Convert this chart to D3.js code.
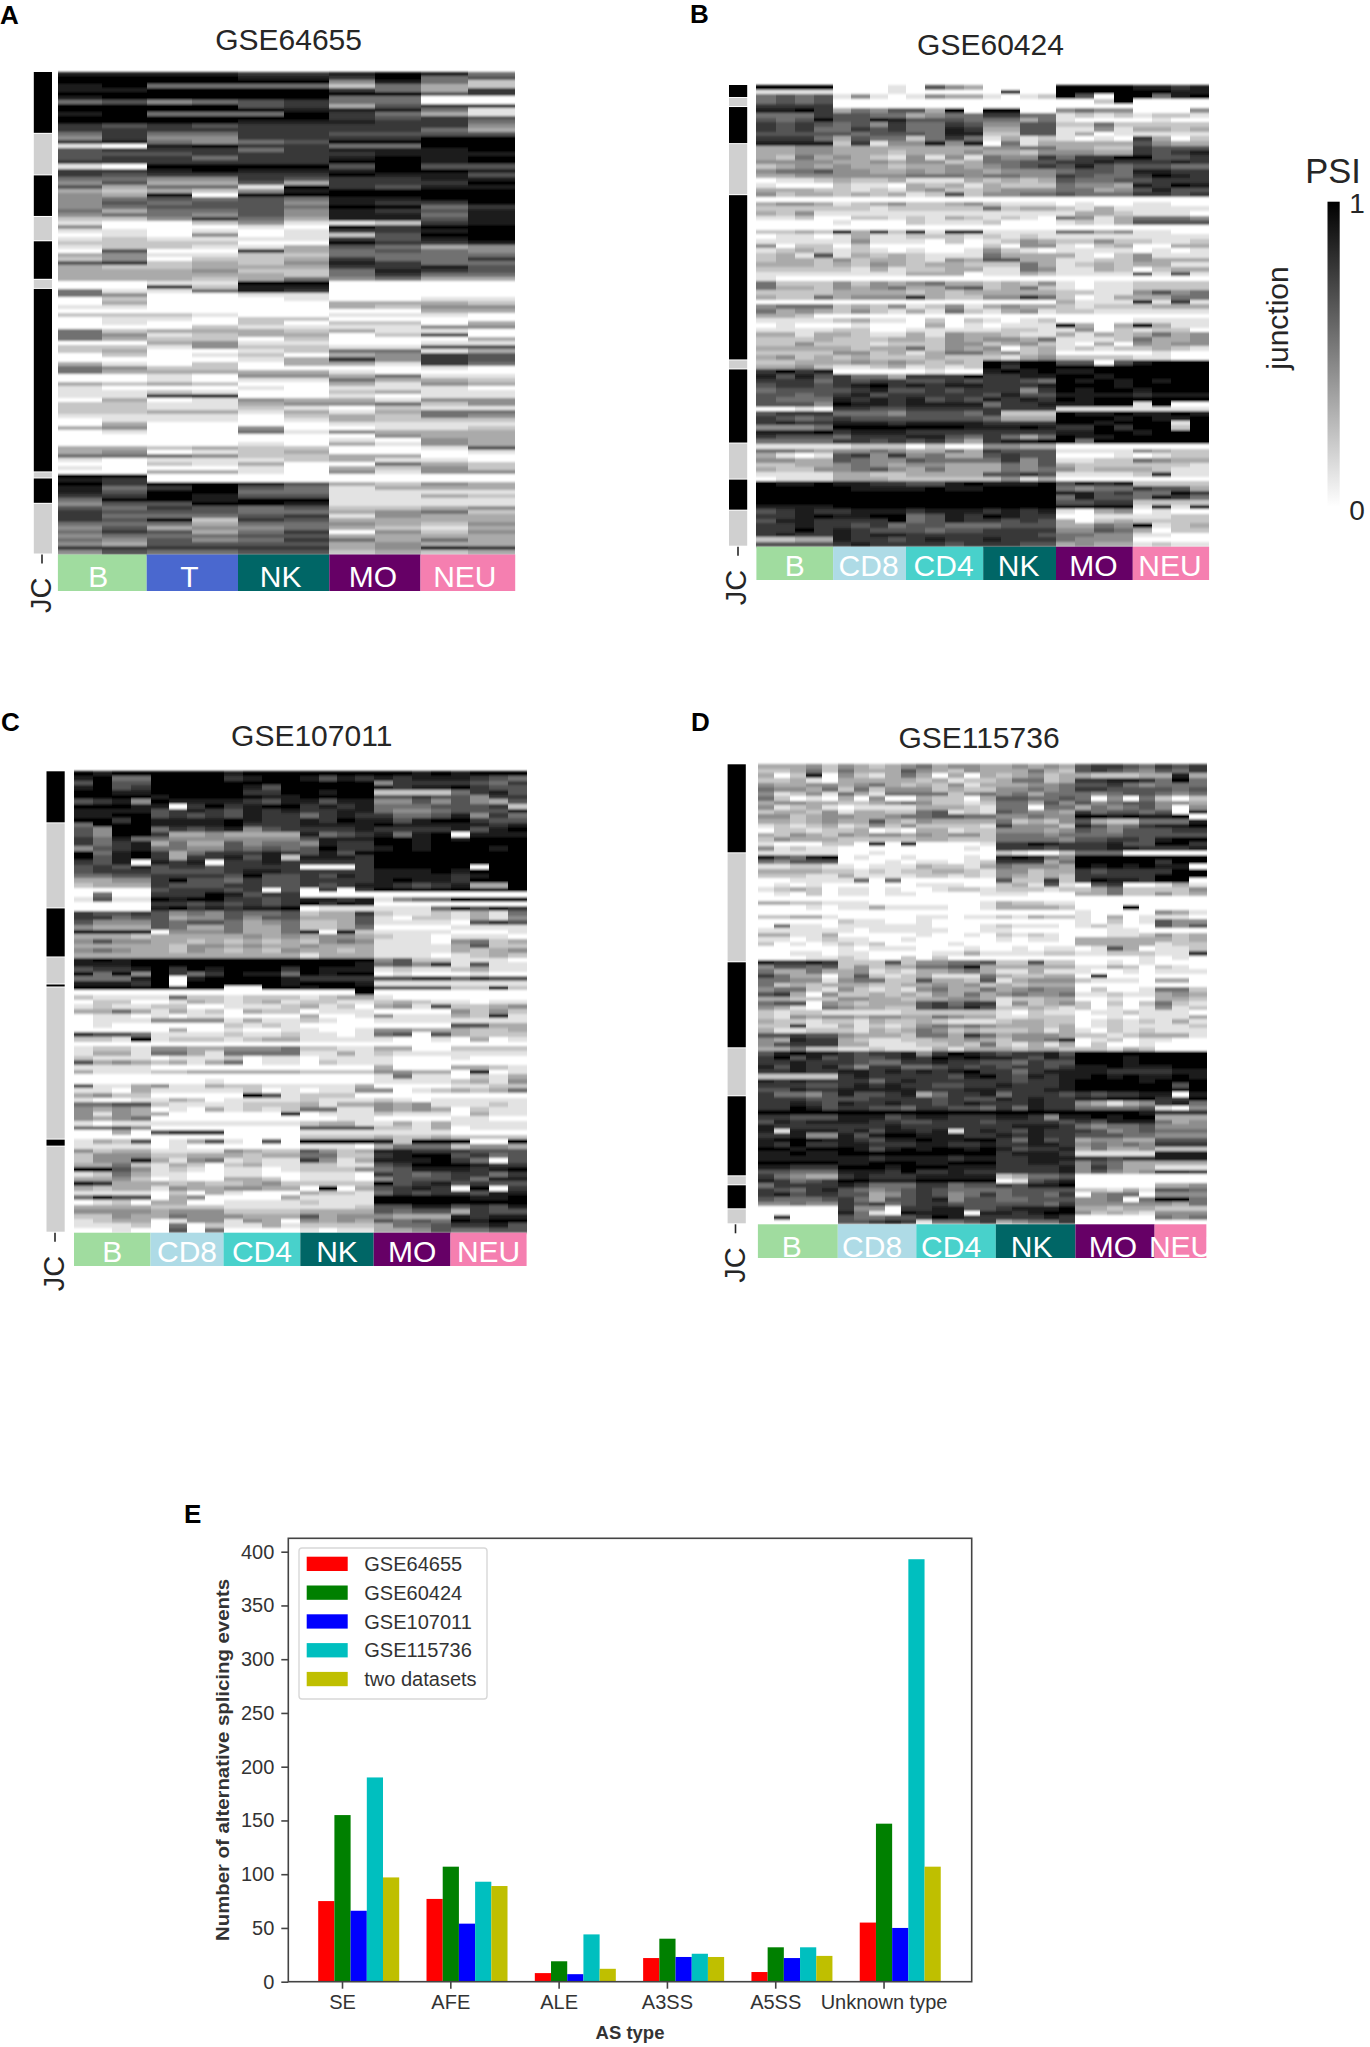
<!DOCTYPE html>
<html>
<head>
<meta charset="utf-8">
<title>PSI heatmaps</title>
<script src="https://cdn.jsdelivr.net/npm/d3@7"></script>
<style>
  html, body { margin: 0; background: #fff; }
  svg { display: block; font-family: "Liberation Sans", Arial, sans-serif; }
</style>
</head>
<body>
<div id="chart"></div>
<script>
// PSI per junction (row) and sample (column): 0 = white ... 9 = black
const psiA = [
"8888778985","9999887956","9999994852","8955552532","8899997537","9999999967","8999995500","5645675500",
"9999673677","9999988851","8955597531","9999997676","9999888775","7676777774","7777777753","5755776666",
"4744777799","7854569999","1089775599","6777578889","6667777888","6775778989","7777779989","1099996966",
"7789888998","7677779886","5544767788","4633637779","6355197688","3232489999","4390999999","4565658899",
"4656648779","4566659957","5355648768","4554648858","2247538868","1002411278","4000109799","1101017789",
"0104012699","1211117689","2222009778","1221136534","0600735654","3411225555","2402237557","6723248755",
"3223337786","3334225876","3333325755","3332354533","0011990000","0072880000","5115870000","5400110000",
"0200010011","0300003332","1100003244","0000000033","2221001110","0110220000","0100202203","0002111144",
"5233323110","5412330260","5322020003","0034110011","2214221166","2300125513","0201203476","0000137476",
"3102033175","5422000010","5333331000","0010443511","0010115332","3232003143","1000101110","1121002311",
"1178001011","0301433144","2211344524","2211210211","2233131355","1111023254","0111013222","0300001111",
"3400400112","0100514333","0000000433","0000001043","0000103143","3323220016","3401230001","5554223300",
"1011123110","0021300532","1000103242","0033104144","9900000000","8700000000","9799863243","8579651333",
"8699551111","7798661132","5998991111","4669981111","6576562234","7666553452","7555671433","7692763333",
"5553554324","4634453213","5763570424","4555663333","5464575353","4366663433","7777773487","4655662323"
];
const psiB = [
"9999 0001 0643 0000 9999 8878","1111 0001 0000 0800 9999 9988","5656 1410 1433 1012 9609 9589","5656 0000 0000 0000 0029 0000",
"7777 0000 0000 0000 0000 0000","8897 3546 6390 9900 4544 0004","5557 6655 3455 7755 1212 1221","6569 6698 6665 5535 1000 0100",
"7676 5647 5576 4466 2252 2222","7675 5767 5587 3366 1141 3323","6666 6566 6588 2266 1301 1111","7775 3655 2575 1312 1010 7302",
"8888 2714 4848 0513 3333 6433","3344 3333 3333 4455 3322 7666","3344 3332 3334 3324 4433 7678","3253 4321 4141 5447 5779 9667",
"4444 3343 4423 5566 7787 7787","2343 4332 3343 4567 6865 6655","4556 4433 4344 3444 5665 8877","3344 4444 5554 5544 7655 7987",
"0112 3223 1113 2323 6556 6777","1000 2110 3231 3222 5443 8798","3332 2121 3422 3444 5534 6866","4233 2323 1262 4455 6555 7767",
"0000 0000 0000 0000 0000 0000","3443 1234 2234 2111 0100 1100","2222 2212 2222 5233 2131 1111","3241 1111 1111 1111 1332 1110",
"1120 0221 2132 1210 5413 5554","0000 1000 2111 2000 1213 6666","0000 0000 0000 0000 0000 0000","2232 9372 8199 1111 5534 1100",
"0110 1311 2221 2121 1111 1111","1111 1411 1020 1243 2242 2112","4022 0200 0000 2044 1023 0033","1232 1210 1001 4210 1111 0101",
"2316 1323 2111 5333 3102 4111","2332 4233 2143 6633 1122 4333","3332 3243 2332 2253 1232 3311","2222 2131 2233 1154 1132 0233",
"1111 1111 3330 1132 1111 6161","1000 0000 0000 0000 0000 0000","5222 4243 4533 2324 1011 2222","5332 4345 3356 2352 1011 2222",
"2222 3333 2323 3333 2211 4645","3225 3444 7322 4475 2013 3355","0000 0000 0000 0000 3111 8171","4555 2324 1241 3433 2122 2333",
"5343 2421 3152 1341 2211 1111","3320 0000 0000 0000 0000 0000","1111 2311 0202 1012 0000 1111","0100 0100 0301 0111 8303 8311",
"1111 2200 1111 1221 1402 1220","3313 3211 3143 3211 3132 3534","2223 2223 3243 4435 1112 5334","2242 2212 2244 2342 1030 4344",
"3333 3233 5243 4023 1212 2321","2222 4423 1355 3423 0000 0100","3423 2322 2322 2134 2222 1100","2233 3434 3232 9899 6606 8999",
"3342 1123 1212 9799 9999 9999","7978 0000 0100 8989 8899 9999","8686 7553 7779 7788 9989 9999","7775 7677 6676 7765 9898 9899",
"6776 7897 8788 7778 9998 9999","5666 6786 6767 7747 9899 8999","6656 7867 7777 6866 8888 7888","6555 8787 8676 8787 9899 9999",
"6664 9887 8888 5778 8899 1900","0010 7766 7777 7777 1111 1111","6777 5554 6665 7222 9889 8898","7656 7666 6666 5333 9998 9889",
"7877 8887 8888 7777 9989 9919","4445 9999 9998 8898 7797 9929","8889 7888 7777 7777 8899 8999","7666 5777 8865 7535 9889 9999",
"5555 7767 6753 7889 9599 9999","1111 1222 0200 4433 0000 0000","5543 4454 3353 7666 1111 4322","3101 6747 4533 6766 0001 0122",
"4433 6544 6555 5746 1122 5433","2233 4543 4433 3546 3222 2221","3224 4564 3533 3545 4233 3211","1111 3322 3333 6676 1111 2711",
"0111 3332 2222 2413 0000 0000","9889 8877 6689 8889 6878 2222","9999 9888 8988 9999 5455 7663","9999 9999 9999 9999 8867 5597",
"9999 9999 9999 9999 5866 5875","9999 9999 9999 9999 6677 2222","8888 9999 9999 9999 9999 1919","6787 7888 7888 7878 1034 0100",
"7789 8899 5687 9877 0011 1122","6887 7779 5687 7676 3023 2222","7787 7675 6655 5666 3354 9123","7797 8766 6566 7777 4465 3022",
"7877 8788 7777 7776 5544 1100","2233 8776 7877 8777 5444 0000","6666 7877 7767 7766 3433 1211"
];
const psiC = [
"9899 9999 8999 9999 9989 8999","8955 9999 7899 8687 8788 8765","6966 9999 9999 9999 4777 7657","8967 9999 9869 9999 8788 9766",
"9988 9999 9779 9899 2222 5786","9999 8999 9988 9999 6676 6477","6784 9888 8768 8688 4464 6436","9998 8079 7899 7878 5556 6672",
"8888 6787 6878 7788 5445 6668","8899 6767 6877 5787 7556 8475","9979 8888 9877 8798 8689 9766","5999 8888 9777 8888 9888 8878",
"6499 5767 8467 7778 7777 8689","6499 7334 3333 8567 8589 0888","7585 5444 4444 6888 9989 8999","7578 3533 6455 4877 9989 9999",
"4678 5544 6565 6977 8989 9989","9589 7357 7787 6869 9999 9999","9689 7377 8682 8887 9999 9999","7680 8780 7787 7777 9999 9999",
"6768 6776 7777 0007 9999 9099","6777 6666 7887 7777 8889 8999","5566 7777 6966 7687 8888 7899","3344 7966 5766 7777 8988 7999",
"2333 7666 7766 7678 8767 8339","0000 6777 6706 0707 9999 9999","0500 7779 8677 0000 0000 0000","1611 9899 7767 8878 1455 9888",
"0000 7767 6767 9798 0000 0000","0000 8978 7889 0111 1115 8687","7667 6454 6556 2337 2112 1315","7756 6344 6466 3336 1022 1314",
"6444 6566 5345 2236 1111 0676","4333 6533 5335 2235 0000 1111","9999 0444 5335 9092 1111 0001","3332 3333 3434 3443 2110 1110",
"4644 3323 2323 2454 1110 4523","3333 3244 3433 4333 1111 3622","4543 3243 2324 3323 1111 3234","3333 3333 3333 1333 1110 1232",
"8989 9999 9999 9999 4622 1110","8889 9999 9999 9998 5647 1611","6778 9798 9997 9888 1211 2311","9594 9757 9885 9899 0100 0100",
"5558 9089 9998 7777 6677 5766","8887 9099 9998 9998 1111 1111","9999 9999 0099 8999 6666 2292","0000 0000 0000 0009 0000 0000",
"2111 1522 1222 1233 1000 0000","0220 0132 1231 2211 2321 1011","1211 2200 1112 3120 3416 2234","3353 1312 0322 0111 0000 4242",
"0110 1011 0000 3001 4111 3281","0111 4444 1311 2100 1111 1111","0100 0000 2121 0000 0000 6633","0000 0300 1001 1001 4433 3223",
"7665 1111 2112 1101 5606 3222","2219 1222 1233 1111 1001 0301","0000 0000 0000 0000 0000 0000","1221 4433 4445 2211 3300 2222",
"1331 5531 5555 1131 2111 1111","2111 0111 2011 0111 1000 1000","6343 2313 5011 0211 1000 0000","1111 0000 0000 0000 3000 3321",
"3111 2233 3333 2222 4433 0901","0000 0000 0000 0000 1511 0213","0000 0001 0000 0000 1111 2314","6113 4113 2211 1113 0000 1122",
"1103 1111 1201 0114 4012 3235","3422 0000 0961 2220 0000 0000","1001 1320 1111 2111 2101 1111","5566 2111 1222 3133 4341 1121",
"4343 0103 1212 5511 4343 0211","4143 3000 0009 0111 2111 0311","4345 0000 0000 0011 0000 1100","1011 1111 1111 2331 1313 1111",
"5564 0000 0000 6666 2213 0111","0030 6777 0000 1111 1111 0000","0000 0000 0000 2222 3223 2222","1326 0136 1060 9999 8299 9009",
"1111 0100 0000 1110 3555 2443","4233 1111 4322 6423 8877 7666","2444 2233 3233 5522 7899 6756","2448 3145 1211 7413 8889 7506",
"3352 1320 2311 2211 6799 9877","9964 1210 1101 2224 5688 8789","1253 1100 1100 1110 7656 7757","3342 0100 3320 1110 4666 7588",
"8733 3232 2342 2222 9678 6766","3233 1433 4433 0903 6787 0907","1111 0203 1000 3221 5767 7688","5866 0340 0003 1111 9999 9889",
"0120 3300 1111 2111 9999 9999","3333 2222 1111 1112 6688 6768","4444 3444 2222 3333 6566 3766","2243 3544 4333 6344 4333 8788",
"1233 0144 1430 4343 6565 9899","1112 0502 1131 2222 3556 7786","0010 0605 0000 1011 3346 5566"
];
const psiD = [
"33342 43234 53443 34343 67765 767","22352 53336 43243 33532 67654 657","30280 42135 30303 23423 32223 383","22310 33333 23122 35523 77887 595",
"43344 34532 32413 33445 66754 555","54435 25244 42322 44545 77666 656","41241 53155 55245 45355 54566 545","52010 30400 32203 66556 50405 202",
"34433 22345 42212 55364 64566 443","41231 01111 33321 55055 35456 404","23324 13322 56121 65443 75665 608","44234 43345 56655 44544 99898 890",
"33234 33632 43333 52324 63225 558","12123 12424 22221 74442 86457 889","02212 23010 33122 44434 65466 677","32432 43443 43442 55545 55566 666",
"24333 22222 33222 55554 66776 899","10002 20909 00001 77987 77866 997","41211 00000 00010 77767 77887 778","11111 00100 00000 21002 55500 000",
"86589 01001 00010 89854 99999 999","54666 00010 11012 77735 99999 799","11221 10111 32213 54443 98989 880","33332 21212 23321 44233 76777 799",
"22211 31111 22121 43232 77777 999","00111 15050 00000 62272 79887 990","01010 00000 11100 23161 06700 131","12320 11010 01221 22212 23522 224",
"01020 11011 00001 11000 33522 423","00000 00000 00000 00000 00000 000","33221 11000 00001 32211 00000 000","00010 11311 11001 33332 00090 000",
"00000 00000 00000 00000 10000 431","22331 00000 11011 21322 10301 110","00000 21100 10000 00000 10201 644","05110 11111 10001 21110 12100 646",
"11111 10111 11001 10000 00110 000","33113 00000 10010 21210 00112 423","11012 11001 00000 10110 33333 323","20101 21200 00100 00000 33333 122",
"00000 10111 00010 01011 01630 112","00110 11000 01131 11122 11222 117","00011 21002 02000 00000 00001 010","87787 22262 44556 22622 00101 000",
"46656 24233 55693 33333 11320 210","53353 34121 33453 11311 10010 111","75330 36212 31115 32233 09000 000","55441 45522 63326 13444 21110 330",
"52323 33223 34342 32333 00000 000","45521 42121 45335 34544 02001 552","67304 22323 24353 45445 11211 343","33222 44332 33443 12233 00100 332",
"56604 32333 67577 14234 20202 521","43105 43322 67686 22321 20101 412","21221 11112 22222 10211 01121 110","21434 43443 35433 11222 00101 113",
"32212 21322 32111 23322 01212 131","22711 31212 45454 33323 01211 112","31122 21323 54232 22313 10212 111","66766 43332 55375 34443 22123 331",
"43877 32112 23343 24458 01201 100","46777 33111 22325 21313 02001 000","33522 11211 13133 32332 22132 000","68988 76778 47987 67786 99999 999",
"79686 76678 79898 87687 99989 999","77877 76557 78776 65766 99989 999","86878 64775 56767 67767 88988 899","77877 88787 87897 75788 88777 788",
"22222 78777 77689 76878 89898 898","87877 77578 77777 76778 99998 999","77766 78787 76677 87778 99999 969","66877 88888 77788 77788 99999 999",
"75546 86678 35778 57776 76778 808","77766 66777 76766 87877 88999 779","77876 87787 76787 77877 43134 785","77986 77665 77665 75877 55556 104",
"99999 99999 99999 99999 99998 777","77666 88867 88777 88748 89899 333","68788 88776 67776 77776 76888 534","87777 77787 77777 78887 54556 444",
"81888 78688 78178 76877 76456 555","77844 86899 88877 87877 66655 444","89998 87688 98899 75867 34433 666","87977 88777 88778 77887 45454 777",
"99899 98689 89989 86778 35334 222","88988 99999 99999 78887 11111 888","88888 88788 88788 77888 77677 888","99999 88999 88999 77887 46533 333",
"88777 99989 99888 77778 47533 111","66555 88879 77877 77778 46434 887","75433 78777 88888 23556 00000 000","87567 99888 99999 01678 00000 000",
"57777 87555 77566 76889 00000 334","76578 65456 76555 56666 22131 665","78677 66346 76457 56657 04550 444","65556 75366 78466 55666 44505 995",
"44544 76756 77666 66657 44444 435","00000 74407 78866 78889 33233 222","00000 85109 88808 87899 42321 444","07000 65566 79877 77787 00000 545",
"00000 66787 15567 34557 00000 000"
];

// JC annotation runs, black / grey alternating from the top
const jcA = [61, 41, 41, 24, 38, 9, 181, 6, 25, 50];
const jcB = [13, 9, 37, 51, 165, 9, 74, 36, 31, 36];
const jcC = [52, 85, 49, 27, 3, 152, 7, 86];
const jcD = [89, 109, 86, 48, 80, 9, 24, 15];

const groupsA = ["B", "T", "NK", "MO", "NEU"];
const groupsB = ["B", "CD8", "CD4", "NK", "MO", "NEU"];
const columnsA = [2, 2, 2, 2, 2];
const columnsBC = [4, 4, 4, 4, 4, 4];
const columnsD = [5, 5, 5, 5, 5, 3];

const groupColor = {B: "#a0dc9f", T: "#4a68cf", CD8: "#aedbe6", CD4: "#48d1cb", NK: "#006666", MO: "#660066", NEU: "#f57fb0"};

// bars, panel E
const asTypes = ["SE", "AFE", "ALE", "A3SS", "A5SS", "Unknown type"];
const barSeries = ["GSE64655", "GSE60424", "GSE107011", "GSE115736", "two datasets"];
const barColors = ["#ff0000", "#008000", "#0000ff", "#00bfbf", "#bfbf00"];
const barGSE64655 = [75, 77, 8, 22, 9, 55];
const barGSE60424 = [155, 107, 19, 40, 32, 147];
const barGSE107011 = [66, 54, 7, 23, 22, 50];
const barGSE115736 = [190, 93, 44, 26, 32, 393];
const barTwo = [97, 89, 12, 23, 24, 107];
const barValues = [barGSE64655, barGSE60424, barGSE107011, barGSE115736, barTwo];
const barTicks = [0, 50, 100, 150, 200, 250, 300, 350, 400];

const INK = "#262626";

const svg = d3.select("#chart").append("svg")
    .attr("width", 1370)
    .attr("height", 2047)
    .attr("viewBox", "0 0 1370 2047");

const defs = svg.append("defs");
defs.append("filter").attr("id", "soft")
    .attr("x", "-1%").attr("y", "-1%").attr("width", "102%").attr("height", "102%")
    .append("feGaussianBlur").attr("stdDeviation", "0.6 0.9");
const grad = defs.append("linearGradient").attr("id", "psiRamp")
    .attr("x1", 0).attr("y1", 0).attr("x2", 0).attr("y2", 1);
grad.append("stop").attr("offset", "0%").attr("stop-color", "#000");
grad.append("stop").attr("offset", "100%").attr("stop-color", "#fff");

const shade = d3.scaleLinear().domain([0, 9]).range(["#ffffff", "#000000"]);

function label(x, y, txt, o = {}) {
    return svg.append("text")
        .attr("transform", `translate(${x},${y}) rotate(${o.rot || 0})`)
        .attr("text-anchor", o.anchor || "middle")
        .attr("font-size", o.size || 30)
        .attr("font-weight", o.bold ? "bold" : "normal")
        .attr("fill", o.fill || INK)
        .text(txt);
}

function heatmap(p) {
    const rows = p.psi.map(r => Array.from(r.replace(/ /g, ""), Number));

    // columns are not quite even in the picture, so map through the group edges
    let seen = 0;
    const colDomain = [0].concat(p.columns.map(n => (seen += n)));
    const x = d3.scaleLinear().domain(colDomain).range(p.edges);
    const y = d3.scaleLinear().domain([0, rows.length]).range([p.top, p.bottom]);

    const g = svg.append("g").attr("filter", "url(#soft)").attr("shape-rendering", "crispEdges");
    rows.forEach((row, i) => {
        g.selectAll(null)
            .data(row)
            .enter().append("rect")
            .attr("x", (d, j) => x(j))
            .attr("width", (d, j) => x(j + 1) - x(j))
            .attr("y", y(i))
            .attr("height", y(i + 1) - y(i))
            .attr("fill", d => shade(d));
    });

    // JC strip
    const jy = d3.scaleLinear().domain([0, d3.sum(p.jc)]).range([p.top, p.bottom]);
    let run = 0;
    p.jc.forEach((n, i) => {
        svg.append("rect")
            .attr("x", p.jcX[0])
            .attr("width", p.jcX[1] - p.jcX[0])
            .attr("y", jy(run))
            .attr("height", jy(run + n) - jy(run) - 1)
            .attr("fill", i % 2 ? "#d0d0d0" : "#000");
        run += n;
    });

    // cell type bar
    const colorBottom = p.bottom + p.barH;
    p.groups.forEach((name, i) => {
        svg.append("rect")
            .attr("x", p.edges[i])
            .attr("width", p.edges[i + 1] - p.edges[i])
            .attr("y", p.bottom)
            .attr("height", p.barH)
            .attr("fill", groupColor[name]);
    });
    p.groups.forEach((name, i) => {
        label((p.edges[i] + p.edges[i + 1]) / 2 + p.nudge[i], colorBottom - p.textLift, name, {fill: "#fff"});
    });

    label(p.titleX, p.titleY, p.title);
    label(p.tagX, p.tagY, p.tag, {bold: true, size: 26, anchor: "start", fill: "#000"});

    // JC tick and label
    svg.append("line")
        .attr("x1", p.jcTickX).attr("x2", p.jcTickX)
        .attr("y1", p.bottom).attr("y2", p.bottom + 9)
        .attr("stroke", INK).attr("stroke-width", 1.6);
    label(p.jcTextX, p.bottom + 23, "JC", {rot: -90, anchor: "end", size: 29});
}

heatmap({
    psi: psiA, jc: jcA, groups: groupsA, columns: columnsA, title: "GSE64655", tag: "A",
    edges: [57.9, 146.7, 238, 329.3, 420.5, 515.2], top: 72, bottom: 554.5, barH: 36.5,
    nudge: [-4, -3, -3, -2, -3], textLift: 4.5,
    jcX: [33.8, 52], jcTickX: 42, jcTextX: 50.5, titleX: 288.6, titleY: 50, tagX: 0, tagY: 24
});
heatmap({
    psi: psiB, jc: jcB, groups: groupsB, columns: columnsBC, title: "GSE60424", tag: "B",
    edges: [756.4, 833.1, 906, 983.2, 1056, 1132.8, 1209.1], top: 85, bottom: 546.7, barH: 33.3,
    nudge: [0, -1, -1, -1, -1, -1], textLift: 4.5,
    jcX: [729, 747.2], jcTickX: 738, jcTextX: 746, titleX: 990.5, titleY: 55, tagX: 690, tagY: 23
});
heatmap({
    psi: psiC, jc: jcC, groups: groupsB, columns: columnsBC, title: "GSE107011", tag: "C",
    edges: [74, 150.5, 223.5, 300.3, 373.7, 450.5, 526.6], top: 771.3, bottom: 1232.7, barH: 33.3,
    nudge: [0, 0, 0, 0, 0, 0], textLift: 4.5,
    jcX: [46.5, 64.7], jcTickX: 55, jcTextX: 64, titleX: 311.7, titleY: 746, tagX: 1, tagY: 731
});
heatmap({
    psi: psiD, jc: jcD, groups: groupsB, columns: columnsD, title: "GSE115736", tag: "D",
    edges: [757.9, 837.8, 916.3, 995.8, 1075.4, 1154.6, 1206.6], top: 764.3, bottom: 1224.3, barH: 33.7,
    nudge: [-6, -5, -5, -4, -2, 0], textLift: 1,
    jcX: [727.6, 745.8], jcTickX: 735.5, jcTextX: 744.8, titleX: 979, titleY: 748, tagX: 691, tagY: 731
});

// NEU in panel D is cut off at the heatmap edge in the original
svg.append("rect").attr("x", 1206.6).attr("y", 1224).attr("width", 30).attr("height", 36).attr("fill", "#fff");

// PSI colour bar
svg.append("rect")
    .attr("x", 1327.5).attr("y", 201.7).attr("width", 12.2).attr("height", 305)
    .attr("fill", "url(#psiRamp)");
label(1333, 183, "PSI", {size: 34.5});
label(1357, 213, "1", {size: 28});
label(1357, 520, "0", {size: 28});
label(1287.6, 318, "junction", {rot: -90, size: 30});

// Panel E
const axisLeft = 288.3, axisRight = 971.7, axisTop = 1538.3, axisBottom = 1981.7;

const x0 = d3.scaleBand().domain(asTypes).range([288.35, 938.2]);
const x1 = d3.scaleBand().domain(barSeries).range([0, 81]);
const yBar = d3.scaleLinear().domain([0, 400]).range([axisBottom, 1551.7]);
// the tick sits on the centre of the second bar of each group
const shift = x0.bandwidth() / 2 - 1.5 * x1.bandwidth();

barSeries.forEach((name, s) => {
    svg.append("g").selectAll("rect")
        .data(barValues[s])
        .enter().append("rect")
        .attr("x", (d, i) => x0(asTypes[i]) + shift + x1(name))
        .attr("width", x1.bandwidth())
        .attr("y", d => yBar(d))
        .attr("height", d => axisBottom - yBar(d))
        .attr("fill", barColors[s]);
});

svg.append("rect")
    .attr("x", axisLeft).attr("y", axisTop)
    .attr("width", axisRight - axisLeft).attr("height", axisBottom - axisTop)
    .attr("fill", "none").attr("stroke", "#444").attr("stroke-width", 1.6);

const yAxis = svg.append("g")
    .attr("transform", `translate(${axisLeft},0)`)
    .call(d3.axisLeft(yBar).tickValues(barTicks).tickSize(7).tickPadding(7));
const xAxis = svg.append("g")
    .attr("transform", `translate(0,${axisBottom})`)
    .call(d3.axisBottom(x0).tickSize(7).tickPadding(6));
[yAxis, xAxis].forEach(a => {
    a.select(".domain").remove();
    a.selectAll("line").attr("stroke", "#444").attr("stroke-width", 1.6);
    a.selectAll("text").attr("font-size", 20).attr("font-family", "inherit").attr("fill", "#333");
});

label(184, 1522.7, "E", {bold: true, size: 26, anchor: "start", fill: "#000"});
svg.append("text")
    .attr("transform", "translate(229,1760) rotate(-90)")
    .attr("text-anchor", "middle")
    .attr("font-size", 18.5)
    .attr("font-weight", "bold")
    .attr("fill", "#333")
    .attr("textLength", 362)
    .attr("lengthAdjust", "spacingAndGlyphs")
    .text("Number of alternative splicing events");
label(630, 2039, "AS type", {bold: true, size: 18.5, fill: "#333"});

// legend
const legend = svg.append("g");
legend.append("rect")
    .attr("x", 299).attr("y", 1548).attr("width", 188).attr("height", 151).attr("rx", 3)
    .attr("fill", "#fff").attr("fill-opacity", 0.85).attr("stroke", "#d8d8d8").attr("stroke-width", 1.4);
barSeries.forEach((name, i) => {
    legend.append("rect")
        .attr("x", 306.7).attr("y", 1556.7 + i * 28.8).attr("width", 41).attr("height", 14.3)
        .attr("fill", barColors[i]);
    legend.append("text")
        .attr("x", 364.3).attr("y", 1571 + i * 28.8)
        .attr("font-size", 20).attr("fill", "#333")
        .text(name);
});
</script>
</body>
</html>
